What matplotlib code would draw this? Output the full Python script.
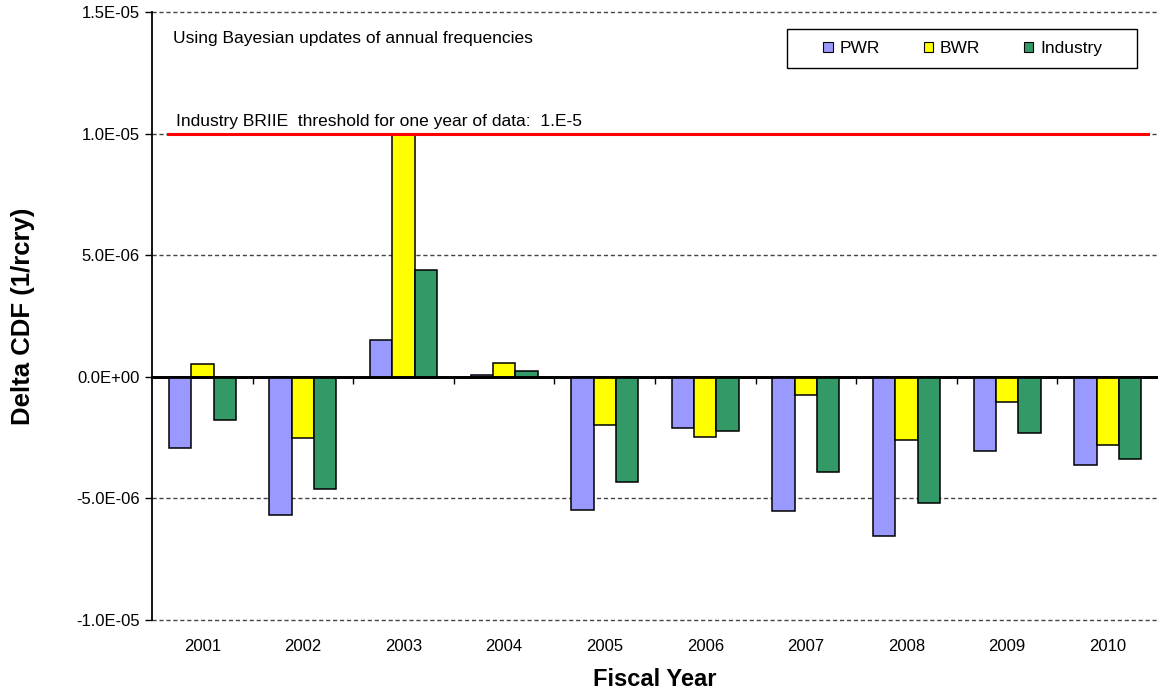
import matplotlib
matplotlib.use("Agg")
import matplotlib.pyplot as plt
import numpy as np
from matplotlib.patches import Patch, Rectangle

years = ["2001", "2002", "2003", "2004", "2005", "2006", "2007", "2008", "2009", "2010"]
pwr = [-2.92e-6, -5.70e-6, 1.53e-6, 0.06e-6, -5.48e-6, -2.10e-6, -5.52e-6, -6.55e-6, -3.04e-6, -3.62e-6]
bwr = [0.51e-6, -2.53e-6, 1.00e-5, 0.55e-6, -2.00e-6, -2.48e-6, -0.76e-6, -2.60e-6, -1.02e-6, -2.82e-6]
industry = [-1.77e-6, -4.60e-6, 4.39e-6, 0.22e-6, -4.33e-6, -2.22e-6, -3.91e-6, -5.19e-6, -2.33e-6, -3.36e-6]
series_names = ["PWR", "BWR", "Industry"]
colors = ["#9999FF", "#FFFF00", "#339966"]
threshold = 1.0e-5
yticks = [-1.0e-5, -5.0e-6, 0.0, 5.0e-6, 1.0e-5, 1.5e-5]
ytick_labels = ["-1.0E-05", "-5.0E-06", "0.0E+00", "5.0E-06", "1.0E-05", "1.5E-05"]

regular = ["Liberation Sans", "DejaVu Sans"]

fig = plt.figure(figsize=(11.58, 6.98), dpi=100)
ax = fig.add_axes([0.1313, 0.1117, 0.8687, 0.8711])

x = np.arange(len(years))
w = 0.222
for i, (vals, c) in enumerate(zip([pwr, bwr, industry], colors)):
    ax.bar(x + (i - 1) * w, vals, width=w, color=c, edgecolor="black", linewidth=1.1, zorder=3)

ax.set_xlim(-0.5, len(years) - 0.5)
ax.set_ylim(-1.0e-5, 1.5e-5)

ax.set_yticks(yticks)
ax.set_yticklabels(ytick_labels, family=regular, fontsize=12)
ax.tick_params(axis="y", direction="out", length=5, width=1, pad=4)
for yv in yticks:
    if yv != 0.0:
        ax.axhline(yv, color="#444444", linestyle=(0, (3, 2)), linewidth=1.0, zorder=1, clip_on=False)

ax.set_xticks(x)
ax.set_xticklabels(years, family=regular, fontsize=12)
ax.tick_params(axis="x", length=0, pad=14)

for s in ["top", "right", "bottom"]:
    ax.spines[s].set_visible(False)
ax.spines["left"].set_linewidth(1.3)
ax.spines["left"].set_zorder(6)

# category axis crossing at zero
zero_frac = (0 - (-1.0e-5)) / (2.5e-5)
sec = ax.secondary_xaxis(zero_frac)
sec.set_xticks(np.arange(len(years) - 1) + 0.5)
sec.set_xticklabels([])
sec.tick_params(axis="x", direction="out", length=5, width=1)
sec.spines["bottom"].set_linewidth(2)
ax.axhline(0, color="black", linewidth=2, zorder=4)

ax.axhline(threshold, xmin=0.016, xmax=0.99, color="#FF0000", linewidth=2.2, zorder=5)
ax.text(0.0205, 0.957, "Using Bayesian updates of annual frequencies", transform=ax.transAxes,
        family=regular, fontsize=12.5, va="center", ha="left")
ax.text(0.0238, threshold + 0.2e-6, "Industry BRIIE  threshold for one year of data:  1.E-5",
        transform=ax.get_yaxis_transform(), family=regular, fontsize=12.5, va="bottom", ha="left")

ax.set_ylabel("Delta CDF (1/rcry)", family=regular, fontsize=18.5, fontweight="bold")
ax.yaxis.set_label_coords(-0.116, 0.5)
ax.set_xlabel("Fiscal Year", family=regular, fontsize=17, fontweight="bold", labelpad=10)

# legend box
ax.add_patch(Rectangle((0.631, 0.908), 0.348, 0.064, transform=ax.transAxes,
                       facecolor="white", edgecolor="black", linewidth=1, zorder=7))
handles = [Patch(facecolor=c, edgecolor="black", linewidth=0.8) for c in colors]
leg = ax.legend(handles, series_names, ncol=3, loc="center",
                bbox_to_anchor=(0.806, 0.940),
                frameon=False, prop={"family": regular, "size": 12.5},
                handlelength=0.55, handleheight=0.55,
                handletextpad=0.4, borderaxespad=0, borderpad=0, columnspacing=2.5)
leg.set_zorder(8)

fig.savefig("out.png", dpi=100)
